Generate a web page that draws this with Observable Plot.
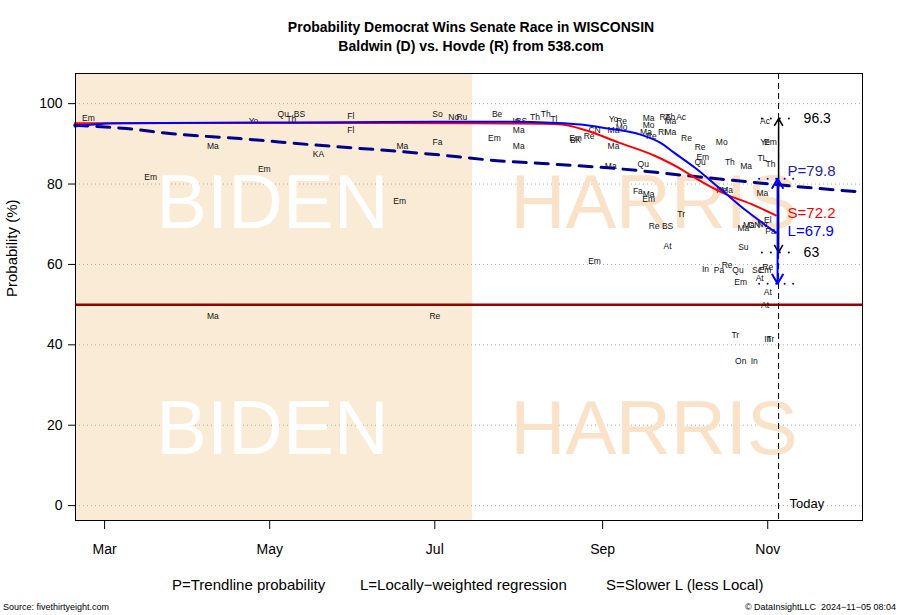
<!DOCTYPE html>
<html><head><meta charset="utf-8">
<script src="https://cdn.jsdelivr.net/npm/d3@7"></script>
<script src="https://cdn.jsdelivr.net/npm/@observablehq/plot@0.6"></script>
<style>
body{margin:0;background:#fff;font-family:"Liberation Sans",Arial,sans-serif;}
#wrap{position:relative;width:900px;height:615px;overflow:hidden;background:#fff}
.t{position:absolute;white-space:nowrap;color:#000}
#title{left:42px;width:858px;top:18px;text-align:center;font-weight:bold;font-size:14px;line-height:19px}
#chart{position:absolute;left:0;top:62px}
.leg{top:576px;font-size:15px;line-height:17px}
.foot{top:602px;font-size:9px;line-height:10px}
</style></head><body>
<div id="wrap">
  <div id="title" class="t">Probability Democrat Wins Senate Race in WISCONSIN<br>Baldwin (D) vs. Hovde (R) from 538.com</div>
  <div id="chart"></div>
  <div class="t leg" style="left:172px">P=Trendline probability</div>
  <div class="t leg" style="left:360px">L=Locally−weighted regression</div>
  <div class="t leg" style="left:606px">S=Slower L (less Local)</div>
  <div class="t foot" style="left:3px">Source: fivethirtyeight.com</div>
  <div class="t foot" style="right:4px">© DataInsightLLC&nbsp;&nbsp;2024−11−05 08:04</div>
</div>
<script>
// ---- Poll labels (pollster abbreviations) ----
const pollLabels = ["Em","Em","Ma","Em","Yo","Qu","Th","BS","KA","Fl","Fl","Ma","Em","So","No","Ru","Fa","Ma","Re","Be",
  "Em","In","BS","Ma","Ma","Th","Th","Tl","BK","Em","CN","Re","Yo","Re","Mo","Ma","Ma","Ma","Ma","Mo",
  "Ma","Re","Re","Th","Ma","Ac","RI","Ma","Qu","Fa","Ma","Em","Tr","Re","BS","At","Em","Re","Mo","Re",
  "Em","Qu","Th","Ma","TL","Th","Ye","Em","Ac","Re","Ma","Ma","Tr","In","Tr","On","In","Ma","Ma","CN",
  "Nv","El","Pa","Su","In","Pa","Re","Qu","Sc","Em","Re","Em","At","At","At"];
const pollDates = ["2024-02-24","2024-03-18","2024-04-10","2024-04-29","2024-04-25","2024-05-06","2024-05-09","2024-05-12","2024-05-19","2024-05-31",
  "2024-05-31","2024-06-19","2024-06-18","2024-07-02","2024-07-08","2024-07-11","2024-07-02","2024-04-10","2024-07-01","2024-07-24",
  "2024-07-23","2024-07-31","2024-08-02","2024-08-01","2024-08-01","2024-08-07","2024-08-11","2024-08-14","2024-08-22","2024-08-22",
  "2024-08-29","2024-08-27","2024-09-05","2024-09-08","2024-09-08","2024-09-05","2024-09-05","2024-09-04","2024-09-18","2024-09-18",
  "2024-09-17","2024-09-19","2024-09-24","2024-09-26","2024-09-26","2024-09-30","2024-09-23","2024-09-26","2024-09-16","2024-09-14",
  "2024-09-18","2024-09-18","2024-09-30","2024-09-20","2024-09-25","2024-09-25","2024-08-29","2024-10-02","2024-10-15","2024-10-07",
  "2024-10-08","2024-10-07","2024-10-18","2024-10-24","2024-10-30","2024-11-02","2024-10-31","2024-11-02","2024-10-31","2024-10-15",
  "2024-10-17","2024-10-30","2024-10-20","2024-11-01","2024-11-02","2024-10-22","2024-10-27","2024-10-23","2024-10-25","2024-10-27",
  "2024-10-30","2024-11-01","2024-11-02","2024-10-23","2024-10-09","2024-10-14","2024-10-17","2024-10-21","2024-10-28","2024-10-31",
  "2024-11-01","2024-10-22","2024-10-29","2024-11-01","2024-10-31"];
const pollValues = [96.3,81.6,89.3,83.8,95.5,97.3,96.0,97.3,87.3,96.8,
  93.3,89.3,75.6,97.3,96.5,96.6,90.5,47.0,47.0,97.3,
  91.3,95.5,95.5,93.3,89.3,96.6,97.3,96.0,90.8,91.5,
  93.3,91.8,96.0,95.5,94.2,93.3,89.3,84.3,96.3,94.5,
  92.8,92.0,96.5,96.5,95.5,96.5,93.0,93.0,84.8,78.1,
  77.4,76.1,72.6,69.4,69.4,64.4,60.7,91.5,90.5,89.1,
  86.6,85.3,85.3,84.3,86.3,84.8,90.5,90.3,95.5,78.4,
  78.4,77.6,42.5,41.3,41.3,35.8,35.8,68.9,69.7,69.7,
  69.9,71.1,68.2,64.2,58.7,58.5,59.7,58.5,58.5,58.5,
  59.2,55.5,56.5,53.2,49.8];

// ---- P: trendline probability ----
const trendDates = ["2024-02-19","2024-03-09","2024-03-26","2024-04-20","2024-05-16","2024-06-18","2024-07-05","2024-07-24","2024-08-10","2024-09-07","2024-10-02","2024-10-15","2024-11-05","2024-12-06"];
const trendValues = [94.6,93.8,92.5,91.3,89.8,88.1,87.1,85.8,85.1,83.8,82.1,81.2,79.8,78.0];
// ---- L: locally-weighted regression ----
const loessDates = ["2024-02-19","2024-02-26","2024-03-06","2024-05-01","2024-07-01","2024-07-25","2024-08-15","2024-08-24","2024-09-03","2024-09-14","2024-09-23","2024-09-27","2024-10-05","2024-10-15","2024-10-24","2024-11-04"];
const loessValues = [94.3,94.8,95.1,95.3,95.5,95.5,95.2,94.8,93.8,92.5,90.0,88.0,84.1,78.5,73.4,67.9];
// ---- S: slower L ----
const slowDates = ["2024-02-19","2024-04-01","2024-06-01","2024-07-15","2024-08-10","2024-08-17","2024-08-26","2024-09-07","2024-09-20","2024-10-01","2024-10-05","2024-10-17","2024-10-26","2024-11-04"];
const slowValues = [95.1,95.2,95.2,95.1,95.0,94.8,93.3,90.3,87.1,83.3,81.6,77.3,75.0,72.2];

// ---- Axis ticks / reference values ----
const yTicks = [0,20,40,60,80,100];
const monthTicks = ["2024-03-01","2024-05-01","2024-07-01","2024-09-01","2024-11-01"];
const todayDate = "2024-11-05";
const bidenEnd = "2024-07-15";
const pNow = 79.8, lNow = 67.9, sNow = 72.2;
const rangeHigh = 96.3, rangeLow = 63;
const pBandHigh = 81.3, pBandLow = 55.2;

const P = d3.utcParse("%Y-%m-%d");
const polls = pollLabels.map((l,i)=>({label:l, date:P(pollDates[i]), value:pollValues[i]}));
const trend = trendDates.map((d,i)=>({date:P(d), value:trendValues[i]}));
const loess = loessDates.map((d,i)=>({date:P(d), value:loessValues[i]}));
const slow = slowDates.map((d,i)=>({date:P(d), value:slowValues[i]}));
const today = P(todayDate);
const xDomain = [new Date(Date.UTC(2024,1,19,6)), new Date(Date.UTC(2024,11,6))];
const yDomain = [-3.7, 107.5];
const font = "'Liberation Sans', Arial, sans-serif";

const chart = Plot.plot({
  width: 900, height: 500,
  marginTop: 11, marginBottom: 42, marginLeft: 75, marginRight: 38,
  style: {fontFamily: font, fontSize: "14px", background: "white", color: "black"},
  x: {type: "utc", domain: xDomain, ticks: monthTicks.map(P), tickFormat: d3.utcFormat("%b"), tickSize: 9, tickPadding: 15, label: null},
  y: {domain: yDomain, ticks: yTicks, tickSize: 7, tickPadding: 6, label: null},
  marks: [
    Plot.rect([{a: xDomain[0], b: P(bidenEnd)}], {x1: "a", x2: "b", y1: () => yDomain[0], y2: () => yDomain[1], fill: "#faebd7"}),
    Plot.ruleY(yTicks, {stroke: "#aaa", strokeDasharray: "1,3"}),
    Plot.text([{t: "BIDEN", y: 75}, {t: "BIDEN", y: 19}], {x: () => P("2024-05-02"), y: "y", text: "t", fill: "white", fontSize: 76, fontFamily: font}),
    Plot.text([{t: "HARRIS", y: 75}, {t: "HARRIS", y: 19}], {x: () => P("2024-09-20"), y: "y", text: "t", fill: "#f9e2c8", fontSize: 76, fontFamily: font}),
    Plot.ruleY([50], {stroke: "#990000", strokeWidth: 2.5}),
    Plot.text(polls, {x: "date", y: "value", text: "label", fontSize: 8.5, fill: "#111", fontFamily: font}),
    Plot.line(trend, {x: "date", y: "value", stroke: "#00008b", strokeWidth: 3, strokeDasharray: "13,9", curve: "monotone-x"}),
    Plot.line(slow, {x: "date", y: "value", stroke: "#ff0000", strokeWidth: 2, curve: "monotone-x"}),
    Plot.line(loess, {x: "date", y: "value", stroke: "#0000ff", strokeWidth: 2, curve: "monotone-x"}),
    Plot.ruleX([today], {stroke: "black", strokeDasharray: "6,4", strokeWidth: 1}),
    // dotted reference ticks at today
    Plot.ruleY([rangeHigh, rangeLow], {y: d => d, x1: () => P("2024-10-30"), x2: () => P("2024-11-12"), stroke: "black", strokeWidth: 2, strokeDasharray: "0,9", strokeLinecap: "round"}),
    Plot.ruleY([pBandHigh, pBandLow], {y: d => d, x1: () => P("2024-10-29"), x2: () => P("2024-11-12"), stroke: "#0000ff", strokeWidth: 2, strokeDasharray: "0,8.5", strokeLinecap: "round"}),
    Plot.arrow([{a: (rangeHigh + rangeLow) / 2, b: rangeHigh}, {a: (rangeHigh + rangeLow) / 2, b: rangeLow}], {x1: () => today, x2: () => today, y1: "a", y2: "b", stroke: "black", strokeWidth: 1.5, headLength: 8}),
    Plot.arrow([{a: (pBandHigh + pBandLow) / 2, b: pBandHigh}, {a: (pBandHigh + pBandLow) / 2, b: pBandLow}], {x1: () => today, x2: () => today, y1: "a", y2: "b", stroke: "#0000ff", strokeWidth: 2, headLength: 8, dx: -1}),
    Plot.text([rangeHigh, rangeLow], {x: () => today, y: d => d, text: d => String(d), dx: 25, textAnchor: "start", fontSize: 14, fill: "black", fontFamily: font}),
    Plot.text([pNow], {x: () => today, y: d => d, text: d => "P=" + d, dx: 9, dy: -14, textAnchor: "start", fontSize: 15, fill: "#1f1fa8", fontFamily: font}),
    Plot.text([sNow], {x: () => today, y: d => d, text: d => "S=" + d, dx: 9, dy: -2, textAnchor: "start", fontSize: 15, fill: "#ff0000", fontFamily: font}),
    Plot.text([lNow], {x: () => today, y: d => d, text: d => "L=" + d, dx: 9, dy: -1, textAnchor: "start", fontSize: 15, fill: "#0000ff", fontFamily: font}),
    Plot.text(["Today"], {x: () => today, y: () => 0, text: d => d, dx: 11, dy: -2, textAnchor: "start", fontSize: 13, fill: "black", fontFamily: font}),
    Plot.text(["Probability (%)"], {frameAnchor: "left", text: d => d, dx: -63, rotate: -90, fontSize: 15, fill: "black", fontFamily: font}),
    Plot.frame({stroke: "black", strokeWidth: 1})
  ]
});
document.getElementById("chart").appendChild(chart);
</script>
</body></html>
